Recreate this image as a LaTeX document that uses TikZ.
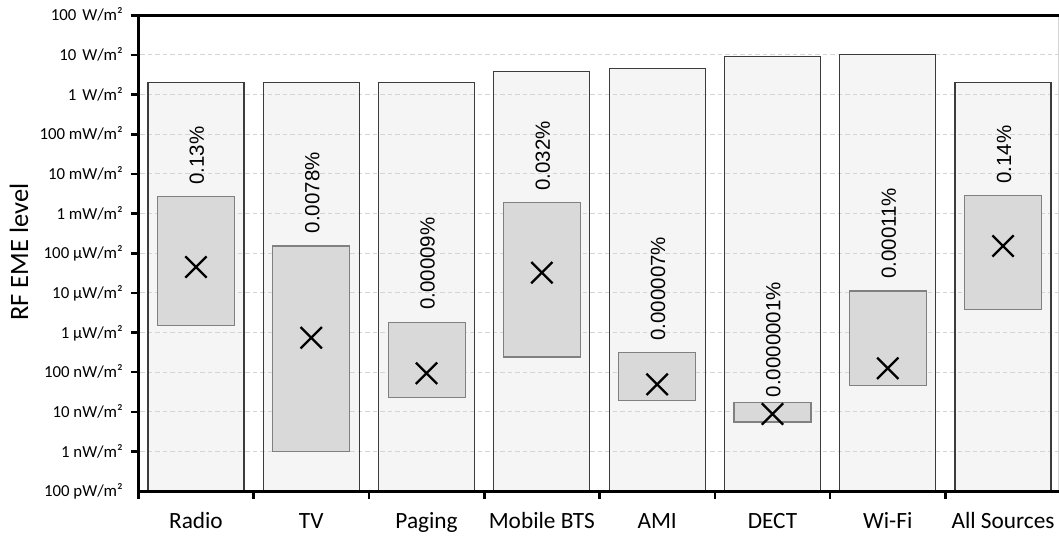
\documentclass[tikz,border=0pt]{standalone}
\usepackage{fontspec}
\setmainfont{Carlito}
\newfontfamily\pctfont{Liberation Sans}
\usetikzlibrary{shapes.misc}
\definecolor{barfill}{HTML}{F5F5F5}
\definecolor{bardraw}{HTML}{3C3C3C}
\definecolor{boxfill}{HTML}{D9D9D9}
\definecolor{boxdraw}{HTML}{808080}
\definecolor{gridc}{HTML}{D4D4D4}
\begin{document}
\begin{tikzpicture}[x=1pt,y=-1pt,
  outerfill/.style={fill=barfill},
  outerdraw/.style={draw=bardraw,line width=1.2pt},
  innerbox/.style={fill=boxfill,draw=boxdraw,line width=1.1pt},
  gridline/.style={draw=gridc,line width=1pt,dash pattern=on 4.5pt off 3pt},
  axisline/.style={line width=3pt},
  ticklab/.style={anchor=base east,font=\fontsize{16.8}{19}\selectfont,inner sep=0pt},
  catlab/.style={anchor=base,font=\fontsize{23.3}{27}\selectfont,inner sep=0pt},
  pctlab/.style={rotate=90,anchor=base west,font=\pctfont\fontsize{20.5}{24}\selectfont,inner sep=0pt},
  xmark/.style={cross out,draw=black,line width=2.3pt,minimum size=19pt,inner sep=0pt},
]
\useasboundingbox[fill=white] (0,0) rectangle (1059,536);

% outer bars (fill)
\foreach \i/\ot in {0/82.7,1/82.7,2/82.7,3/71.7,4/68.7,5/56.7,6/54.7,7/82.3}{
  \pgfmathsetmacro{\c}{138.3+115.3*(\i+0.5)}
  \fill[outerfill] (\c-48,\ot) rectangle (\c+48,491);
}
% grid lines
\foreach \k in {1,...,11}{
  \draw[gridline] (140,15.3+39.65*\k) -- (1059,15.3+39.65*\k);
}
% outer bars (border), inner boxes, marks, percent labels, category labels
\foreach \i/\lab/\ot/\it/\ib/\xy/\pct/\pb in {
  0/Radio/82.7/196.7/325.3/267/0.13\%/185,
  1/TV/82.7/246/451.7/337.7/0.0078\%/233.3,
  2/Paging/82.7/322.7/397.7/373.3/0.00009\%/310,
  3/Mobile BTS/71.7/202.7/357/272.7/0.032\%/190.7,
  4/AMI/68.7/352.3/400.3/384.3/0.000007\%/340.7,
  5/DECT/56.7/402.3/422/414/0.0000001\%/397.3,
  6/Wi-Fi/54.7/291/385.7/368.3/0.00011\%/279,
  7/All Sources/82.3/195.3/309.7/246/0.14\%/184}{
  \pgfmathsetmacro{\c}{138.3+115.3*(\i+0.5)}
  \draw[outerdraw] (\c-48,491) -- (\c-48,\ot) -- (\c+48,\ot) -- (\c+48,491);
  \draw[innerbox] (\c-38.5,\it) rectangle (\c+38.5,\ib);
  \node[xmark] (x\i) at (\c,\xy) {};
  \node[pctlab] (p\i) at (\c+8,\pb) {\pct};
  \node[catlab] (cat\i) at (\c,528.5) {\lab};
}

% axes
\draw[line width=0.8pt,draw=gridc] (1058.4,15.3) -- (1058.4,491);
\draw[line width=2.6pt] (131,15.3) -- (1059,15.3);
\draw[axisline] (138.3,13.8) -- (138.3,492.5);
\draw[axisline] (136.8,491) -- (1059,491);
\foreach \k in {0,...,11}{
  \draw[line width=2.6pt] (131,15.3+39.65*\k) -- (138.3,15.3+39.65*\k);
}
\foreach \k in {0,...,7}{
  \draw[line width=2.6pt] (138.3+115.3*\k,491) -- (138.3+115.3*\k,498.5);
}

% tick labels
\node[ticklab] (t0)  at (123,15.3+5.6)  {100\kern2pt{} W/m²};
\node[ticklab] (t1)  at (123,54.95+5.6) {10\kern2pt{} W/m²};
\node[ticklab] (t2)  at (123,94.6+5.6)  {1\kern2pt{} W/m²};
\node[ticklab] (t3)  at (123,134.25+5.6) {100 mW/m²};
\node[ticklab] (t4)  at (123,173.9+5.6) {10 mW/m²};
\node[ticklab] (t5)  at (123,213.55+5.6) {1 mW/m²};
\node[ticklab] (t6)  at (123,253.2+5.6) {100 µW/m²};
\node[ticklab] (t7)  at (123,292.85+5.6) {10 µW/m²};
\node[ticklab] (t8)  at (123,332.5+5.6) {1 µW/m²};
\node[ticklab] (t9)  at (123,372.15+5.6) {100 nW/m²};
\node[ticklab] (t10) at (123,411.8+5.6) {10 nW/m²};
\node[ticklab] (t11) at (123,451.45+5.6) {1 nW/m²};
\node[ticklab] (t12) at (123,491.1+5.6) {100 pW/m²};

% axis title
\node[rotate=90,anchor=base,inner sep=0pt,font=\fontsize{26.5}{30}\selectfont] (ytitle) at (28,252.3) {RF EME level};
\end{tikzpicture}
\end{document}
